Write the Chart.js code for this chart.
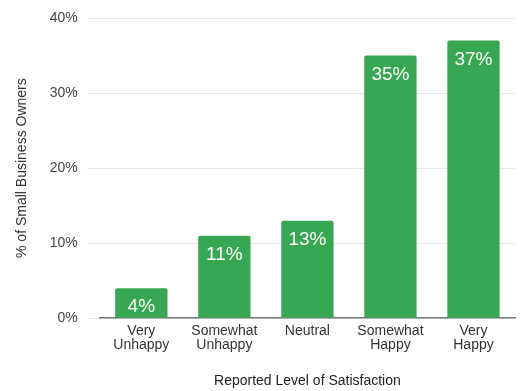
<!DOCTYPE html>
<html>
<head>
<meta charset="utf-8">
<script src="https://cdn.jsdelivr.net/npm/chart.js@4.4.0/dist/chart.umd.min.js"></script>
<style>
  html, body { margin: 0; padding: 0; background: #fff; }
  #wrap { width: 525px; height: 391px; }
</style>
</head>
<body>
<div id="wrap"><canvas id="satChart" width="525" height="391"></canvas></div>
<script>
const categories = [['Very', 'Unhappy'], ['Somewhat', 'Unhappy'], 'Neutral', ['Somewhat', 'Happy'], ['Very', 'Happy']];
const shares = [4, 11, 13, 35, 37];
const yTicks = [0, 10, 20, 30, 40];

const FONT = '"Liberation Sans", Arial, sans-serif';

// white value labels inside the top of each bar
const barLabels = {
  id: 'barLabels',
  afterDatasetsDraw(chart) {
    const ctx = chart.ctx;
    const meta = chart.getDatasetMeta(0);
    ctx.save();
    ctx.fillStyle = '#ffffff';
    ctx.font = '19px ' + FONT;
    ctx.textAlign = 'center';
    ctx.textBaseline = 'middle';
    meta.data.forEach((bar, i) => {
      ctx.fillText(shares[i] + '%', bar.x, bar.y + 19);
    });
    ctx.restore();
  }
};

document.addEventListener('DOMContentLoaded', () => {
  const ctx = document.getElementById('satChart').getContext('2d');
  new Chart(ctx, {
    type: 'bar',
    data: {
      labels: categories,
      datasets: [{
        data: shares,
        backgroundColor: '#38a753',
        borderWidth: 0,
        borderRadius: { topLeft: 2, topRight: 2 },
        borderSkipped: 'bottom',
        barPercentage: 0.63,
        categoryPercentage: 1
      }]
    },
    options: {
      responsive: false,
      animation: false,
      layout: { padding: { top: 18, right: 10, left: 6, bottom: 1 } },
      plugins: {
        legend: { display: false },
        tooltip: { enabled: false }
      },
      scales: {
        x: {
          grid: { display: false, drawTicks: false },
          border: { color: '#777', width: 1.5 },
          ticks: {
            color: '#333',
            font: { family: FONT, size: 14, lineHeight: 1.0 },
            padding: 6,
            maxRotation: 0
          },
          title: {
            display: true,
            text: 'Reported Level of Satisfaction',
            color: '#222',
            font: { family: FONT, size: 14 },
            padding: { top: 15, bottom: 0 }
          }
        },
        y: {
          min: 0,
          max: 40,
          afterBuildTicks: (axis) => { axis.ticks = yTicks.map(v => ({ value: v })); },
          grid: { color: '#e8e8e8', tickLength: 13, tickColor: '#e8e8e8' },
          border: { display: false },
          ticks: {
            color: '#444',
            font: { family: FONT, size: 14 },
            padding: 9,
            callback: (v) => v + '%'
          },
          title: {
            display: true,
            text: '% of Small Business Owners',
            color: '#333',
            font: { family: FONT, size: 14 },
            padding: { top: 8, bottom: 10 }
          }
        }
      }
    },
    plugins: [barLabels]
  });
});
</script>
</body>
</html>
